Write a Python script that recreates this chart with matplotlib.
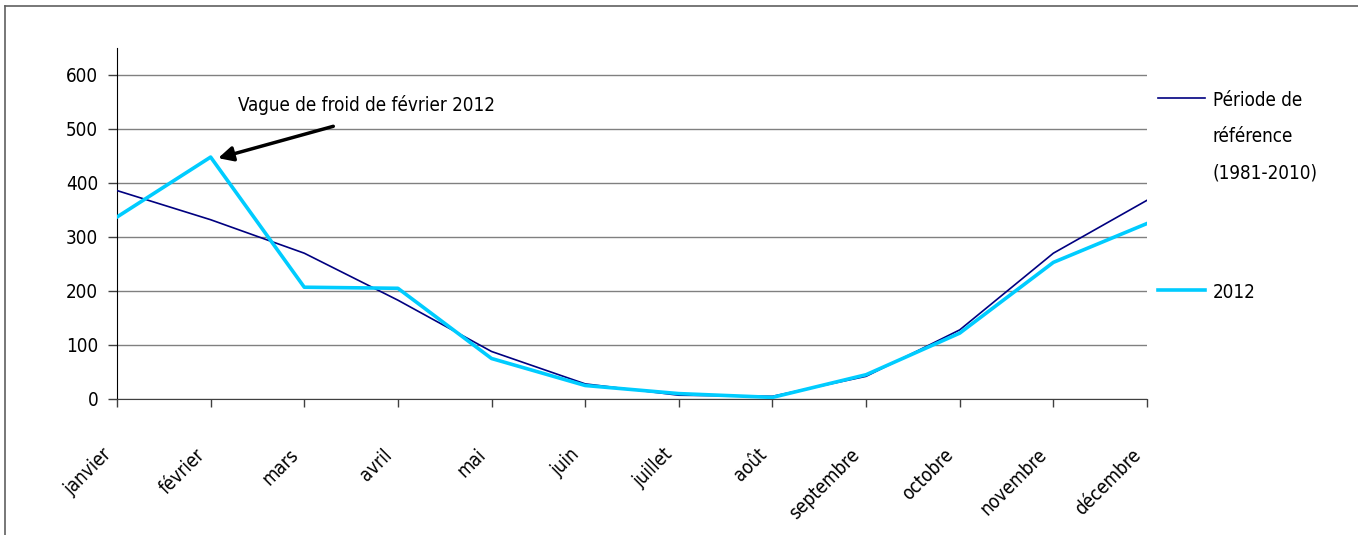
import matplotlib
matplotlib.use("Agg")
import matplotlib.pyplot as plt
from matplotlib.lines import Line2D
from matplotlib.transforms import ScaledTranslation

plt.rcParams['font.family'] = ['DejaVu Sans']
plt.rcParams['font.stretch'] = 'condensed'

# Data
mois = ['janvier', 'février', 'mars', 'avril', 'mai', 'juin', 'juillet',
        'août', 'septembre', 'octobre', 'novembre', 'décembre']
reference = [386, 332, 270, 183, 88, 28, 7, 5, 42, 128, 270, 368]
annee_2012 = [337, 448, 207, 205, 75, 25, 10, 3, 45, 122, 253, 325]
yticks = [0, 100, 200, 300, 400, 500, 600]
legende = ['Période de', 'référence', '(1981-2010)']

fs = 13.5

fig = plt.figure(figsize=(13.58, 5.35), dpi=100)
ax = fig.add_axes([117/1358, 1 - 399/535, (1147 - 117)/1358, (399 - 48)/535])

x = list(range(len(mois)))
ax.plot(x, reference, color='#000080', lw=1.2, zorder=3)
ax.plot(x, annee_2012, color='#00CCFF', lw=2.6, zorder=4)

ax.set_xlim(0, len(mois) - 1)
ax.set_ylim(0, 650)
ax.set_yticks(yticks)
ax.set_xticks(x)
ax.set_xticklabels(mois, rotation=45, ha='right', va='center', rotation_mode='anchor')
ax.grid(axis='y', color='#808080', lw=1)
ax.set_axisbelow(True)

for s in ['top', 'right']:
    ax.spines[s].set_visible(False)
ax.spines['left'].set_color('black')
ax.spines['bottom'].set_color('#404040')
ax.tick_params(axis='y', length=6.5, width=1, color='#404040', labelsize=fs, pad=7)
ax.tick_params(axis='x', length=6, width=1, color='#404040', labelsize=fs, pad=32)
off = ScaledTranslation(-9/100, 0, fig.dpi_scale_trans)
for lab in ax.get_xticklabels():
    lab.set_transform(lab.get_transform() + off)

# annotation: arrow and its text
ax.annotate('', xy=(1.08, 446), xytext=(2.31, 505),
            arrowprops=dict(arrowstyle='-|>', color='black', lw=2.5, mutation_scale=22,
                            shrinkA=0, shrinkB=0))
ax.text(1.29, 544, 'Vague de froid de février 2012', fontsize=fs, ha='left', va='center')

# legend drawn by hand
fig.add_artist(Line2D([1158/1358, 1205/1358], [1 - 98/535, 1 - 98/535], color='#000080', lw=1.2))
fig.add_artist(Line2D([1158/1358, 1205/1358], [1 - 290/535, 1 - 290/535], color='#00CCFF', lw=2.6))
for i, ligne in enumerate(legende):
    fig.text(1213/1358, 1 - (100 + 36.5*i)/535, ligne, fontsize=fs, va='center', ha='left')
fig.text(1213/1358, 1 - 292/535, '2012', fontsize=fs, va='center', ha='left')

# border
fig.add_artist(Line2D([5/1358, 1], [1 - 6/535, 1 - 6/535], color='#606060', lw=1.2))
fig.add_artist(Line2D([5/1358, 5/1358], [0, 1 - 6/535], color='#606060', lw=1.2))

fig.savefig('out.png', dpi=100)
